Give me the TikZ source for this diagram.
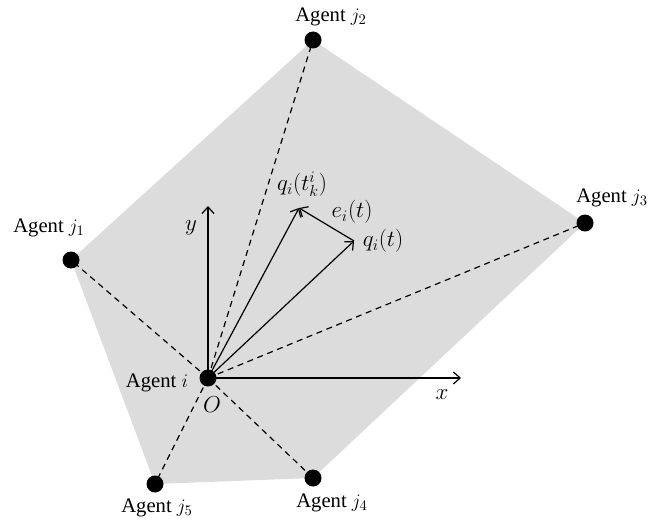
\documentclass[tikz,border=0pt]{standalone}
\usepackage{fontspec}
\setmainfont{Liberation Serif}
\usetikzlibrary{arrows.meta}
\definecolor{hull}{HTML}{DCDCDC}

\begin{document}
\begin{tikzpicture}[x=0.75pt,y=-0.75pt,font=\fontsize{15.5}{18}\selectfont,
  agent/.style={circle,fill=black,inner sep=0pt,minimum size=12.75pt},
  vec/.style={-{Straight Barb[length=5pt,width=9pt]},line width=0.9pt},
  link/.style={dash pattern=on 4.5pt off 3.5pt,line width=0.9pt},
  sym/.style={inner sep=1pt,font=\fontsize{17.5}{20}\selectfont}]
\useasboundingbox (0,0) rectangle (666,527);
% positions of the agents
\coordinate (i) at (208,378);
\coordinate (j1) at (71,260);
\coordinate (j2) at (313,40);
\coordinate (j3) at (585,223);
\coordinate (j4) at (313,478);
\coordinate (j5) at (155,484);
\coordinate (qk) at (299,208);
\coordinate (qt) at (354,241);
\coordinate (xend) at (461,378);
\coordinate (yend) at (208,206);

% neighbourhood region
\fill[hull] (j1) -- (j2) -- (j3) -- (j4) -- (j5) -- cycle;
\foreach \j in {j1,j2,j3,j4,j5}
  \draw[link] (i) -- (\j);

% axes and state vectors
\draw[vec] (i) -- (xend);
\draw[vec] (i) -- (yend);
\draw[vec] (i) -- (qk);
\draw[vec] (i) -- (qt);
\draw[vec] (qt) -- (qk);

\foreach \j in {i,j1,j2,j3,j4,j5}
  \node[agent] (n\j) at (\j) {};

% labels
\node (li) at (157,383) {Agent $i$};
\node[sym] (lO) at (212,405) {$O$};
\node (l1) at (49,228) {Agent $j_1$};
\node (l2) at (331,17) {Agent $j_2$};
\node (l3) at (612,198) {Agent $j_3$};
\node (l4) at (332,503) {Agent $j_4$};
\node (l5) at (157,508) {Agent $j_5$};
\node[sym] (lx) at (442,395) {$x$};
\node[sym] (ly) at (191,228) {$y$};
\node[sym] (lqk) at (302,184) {$q_i(t_k^i)$};
\node[sym] (le) at (352,212) {$e_i(t)$};
\node[sym] (lqt) at (383,241) {$q_i(t)$};
\end{tikzpicture}
\end{document}
